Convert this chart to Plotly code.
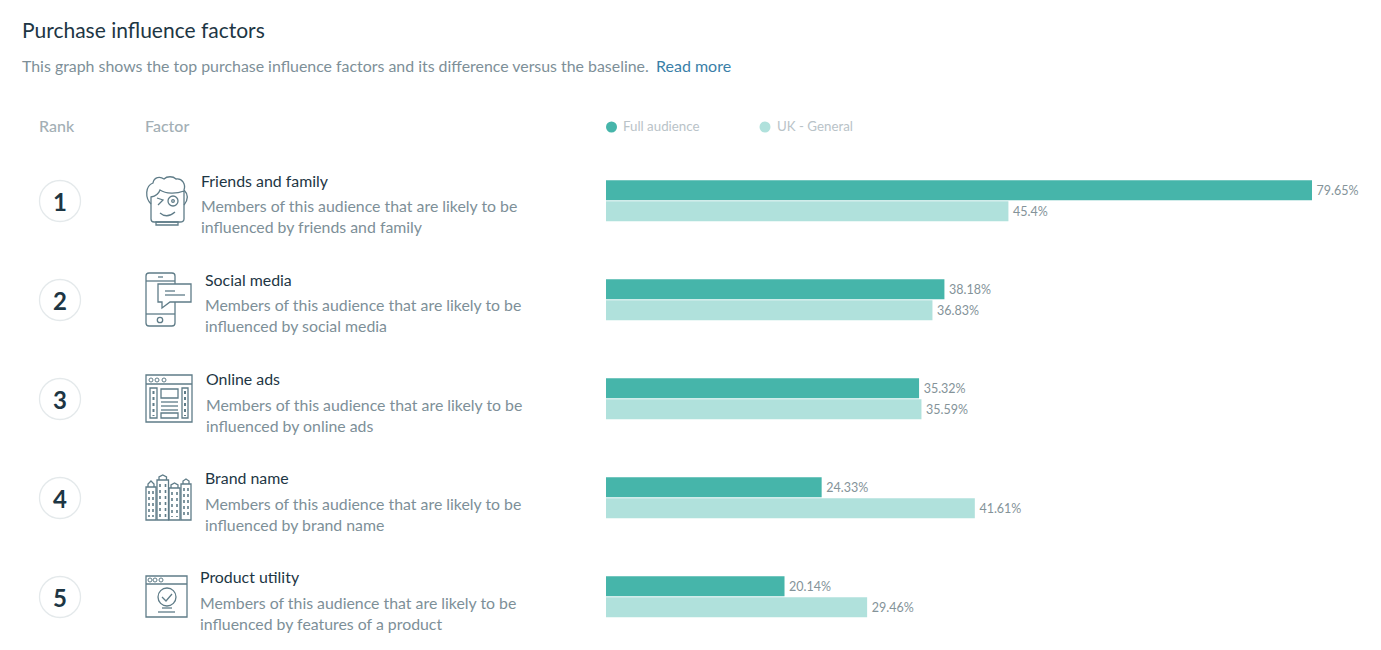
import re
import plotly.graph_objects as go

W, H = 1381, 650
FONT = "Lato"

factors = ["Friends and family", "Social media", "Online ads", "Brand name", "Product utility"]
ranks = ["1", "2", "3", "4", "5"]
descriptions = [
    "Members of this audience that are likely to be<br>influenced by friends and family",
    "Members of this audience that are likely to be<br>influenced by social media",
    "Members of this audience that are likely to be<br>influenced by online ads",
    "Members of this audience that are likely to be<br>influenced by brand name",
    "Members of this audience that are likely to be<br>influenced by features of a product",
]
full_audience = [79.65, 38.18, 35.32, 24.33, 20.14]
uk_general = [45.4, 36.83, 35.59, 41.61, 29.46]
series_names = ["Full audience", "UK - General"]

C_FULL, C_UK = "#46b5aa", "#b0e1dc"
C_DARK, C_GREY, C_HEAD, C_LINK, C_ICON = "#1d3644", "#7d8f98", "#a3afb5", "#3a7fa8", "#5f7c88"

# pixel -> axis mappings: x=0 at px 606, 79.65 at px 1312; rows 99px apart
x_per_px = 79.65 / 706
y_per_px = 1 / 99
x_range = [-606 * x_per_px, (W - 606) * x_per_px]
y_range = [(H - 200.7) * y_per_px, -200.7 * y_per_px]

fig = go.Figure()
for name, vals, col in [(series_names[0], full_audience, C_FULL), (series_names[1], uk_general, C_UK)]:
    fig.add_bar(
        name=name, y=factors, x=vals, orientation="h", marker=dict(color=col, line_width=0),
        text=[f"\u2009{v:g}%" for v in vals], textposition="outside", cliponaxis=False,
        textfont=dict(family=FONT, size=12.5, color="#849399"), showlegend=False,
    )

shapes, annos = [], []
px = lambda x: x / W
py = lambda y: 1 - y / H


def text(x, y, s, size, color, weight=None, anchor="left"):
    annos.append(dict(
        x=px(x), y=py(y), xref="paper", yref="paper", text=s, showarrow=False, xanchor=anchor, yanchor="middle",
        align="left", borderpad=0, borderwidth=0,
        font=dict(family=FONT, size=size, color=color, weight=weight or 400),
    ))


def path(d, color=C_ICON, fill=None, w=1.3, dash=None):
    toks = re.findall(r"[MLCQZ]|-?\d+\.?\d*", d)
    out, isx = [], True
    for t in toks:
        if t.isalpha():
            out.append(t)
            isx = True
        else:
            v = float(t)
            out.append(f"{px(v):.6f}" if isx else f"{py(v):.6f}")
            isx = not isx
    shapes.append(dict(type="path", xref="paper", yref="paper", path=" ".join(out),
                       line=dict(color=color, width=w, dash=dash or "solid"), fillcolor=fill or "rgba(0,0,0,0)"))


def box(x0, y0, x1, y1, **kw):
    path(f"M{x0} {y0} L{x1} {y0} L{x1} {y1} L{x0} {y1} Z", **kw)


def circ(cx, cy, r, color=C_ICON, fill=None, w=1.3):
    shapes.append(dict(type="circle", xref="paper", yref="paper", x0=px(cx - r), x1=px(cx + r), y0=py(cy - r), y1=py(cy + r),
                       line=dict(color=color, width=w), fillcolor=fill or "rgba(0,0,0,0)"))


def line(x0, y0, x1, y1, **kw):
    path(f"M{x0} {y0} L{x1} {y1}", **kw)


# header
text(22, 29.5, "Purchase influence factors", 21, C_DARK)
text(22, 65.5, "This graph shows the top purchase influence factors and its difference versus the baseline.", 15.9, C_GREY)
text(655.5, 65.5, "Read more", 16, C_LINK)
text(39, 126, "Rank", 16, C_HEAD, 500)
text(144.5, 126, "Factor", 16, C_HEAD, 500)

# legend
circ(611.5, 127, 5.5, color=C_FULL, fill=C_FULL, w=0)
text(623, 126, series_names[0], 13.3, "#b9c3c8")
circ(765, 127, 5.5, color=C_UK, fill=C_UK, w=0)
text(777, 126, series_names[1], 13.3, "#b9c3c8")

# rows
title_x = [201, 204.5, 206, 205, 200]
for i in range(5):
    dy = 99 * i
    circ(60, 201 + dy, 20.5, color="#e4e9eb", fill="#ffffff", w=1.3)
    text(60, 201.5 + dy, ranks[i], 24, C_DARK, 700, anchor="center")
    text(title_x[i], 180 + dy, factors[i], 15.9, C_DARK)
    text(title_x[i], 216.5 + dy, descriptions[i], 15.85, C_GREY)

# icon 1: face
path("M151 204 C145 198 145 186 153 183 C154 177 160 176 164 179 C167 176 173 176 176 179 C182 178 186 184 184 190 C189 195 188 200 184 205")
path("M151 197 C156 196 159 193 160 190 C166 194 176 194 184 191 L184 219 Q184 222 180 222 L154 222 Q151 222 151 219 Z")
box(156, 222, 178, 225)
path("M157 198 L163 200 L158 205")
circ(173, 201, 5)
circ(173, 201, 1.3)
path("M160 213 Q167 219 175 212")

# icon 2: phone
path("M149 273 L172 273 Q175 273 175 276 L175 323 Q175 326 172 326 L149 326 Q146 326 146 323 L146 276 Q146 273 149 273 Z")
line(146, 281, 175, 281)
line(146, 314, 175, 314)
circ(160, 320, 2.7)
line(158, 277, 163, 277)
path("M158 284 L191 284 L191 302 L170 302 L162 308 L162 302 L158 302 Z", fill="#ffffff")
line(165, 291, 175, 291)
line(165, 295, 185, 295)

# icon 3: web page
box(146, 375, 192, 422)
line(146, 384, 192, 384)
for cx in (151, 157, 164):
    circ(cx, 380, 2, w=1)
box(150, 388, 157, 418)
line(153.5, 391, 153.5, 416, dash="dot", w=2)
box(182, 388, 188, 418)
line(185, 391, 185, 416, dash="dot", w=2)
box(161, 389, 178, 398)
for ly in (402, 406, 410):
    line(161, ly, 178, ly)
box(161, 413, 178, 418)

# icon 4: buildings
for x0, x1, top, peak in [(146, 156, 487, 481), (157, 168.5, 480, 475), (169, 180, 488, 483), (181, 191, 484, 479)]:
    mid = (x0 + x1) / 2
    box(x0, top, x1, 520)
    path(f"M{x0 + 2} {top} L{x0 + 2} {top - 3} L{mid} {peak} L{x1 - 2} {top - 3} L{x1 - 2} {top}")
    for wx in (x0 + 3, x1 - 3):
        line(wx, top + 4, wx, 517, dash="dot", w=1.6)

# icon 5: check window
box(146, 576, 187, 617)
line(146, 584, 187, 584)
for cx in (150, 155, 161):
    circ(cx, 580, 2, w=1)
circ(167, 597, 9)
path("M162 597 L166 601 L172 594")
line(162, 608, 172, 608)
line(158, 612, 175, 612)

fig.update_layout(
    width=W, height=H, margin=dict(l=0, r=0, t=0, b=0), paper_bgcolor="#ffffff", plot_bgcolor="#ffffff",
    barmode="group", bargap=0.575, bargroupgap=0.05,
    xaxis=dict(range=x_range, visible=False, fixedrange=True),
    yaxis=dict(range=y_range, visible=False, fixedrange=True, categoryorder="array", categoryarray=factors),
    shapes=shapes, annotations=annos,
)
fig.write_html("out.html", config={"displayModeBar": False},
               post_script="document.body.style.margin='0';document.body.style.overflow='hidden';")
